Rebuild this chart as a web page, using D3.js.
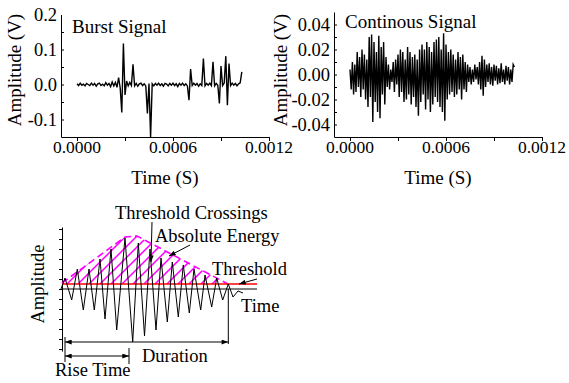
<!DOCTYPE html>
<html>
<head>
<meta charset="utf-8">
<script src="https://cdn.jsdelivr.net/npm/d3@7"></script>
<style>
  body { margin: 0; background: #fff; }
  svg { display: block; }
  text { font-family: "Liberation Serif", "Times New Roman", serif; fill: #000; }
</style>
</head>
<body>
<svg id="chart" width="569" height="383"></svg>
<script>
// ---- top panels: sampled signals ----
const burstStep = 0.00001;   // s between samples
const burstValues = [
  0.002, -0.003, 0.004, -0.002, 0.001, -0.004, 0.003, 0.000, -0.003, 0.004,
  -0.002, 0.003, -0.005, 0.002, 0.004, -0.003, 0.001, -0.004, 0.005, -0.002,
  0.003, -0.006, 0.007, -0.004, 0.006, -0.008, 0.020, -0.010, -0.080, 0.117,
  -0.030, 0.010, -0.004, 0.006, -0.003, 0.058, -0.004, 0.003, -0.005, 0.002,
  0.004, -0.003, 0.002, -0.004, -0.083, 0.003, -0.150, 0.002, -0.004, 0.003,
  -0.002, 0.004, -0.003, 0.002, -0.005, 0.003, 0.001, -0.004, 0.003, -0.002,
  0.004, -0.003, 0.002, -0.006, 0.003, -0.002, 0.004, -0.003, 0.002, -0.004,
  -0.045, 0.044, -0.003, 0.004, -0.002, 0.003, -0.005, 0.002, -0.003, 0.074,
  -0.004, 0.003, -0.002, 0.004, -0.003, 0.065, -0.004, 0.003, -0.002, -0.054,
  0.053, -0.003, 0.004, 0.081, -0.059, 0.060, -0.003, 0.004, -0.002, 0.003,
  -0.004, 0.002, 0.005, 0.036
];

const contStep = 0.0000075;
const contValues = [
  0.004, -0.012, 0.010, -0.016, 0.008, -0.014, 0.018, -0.010, 0.014, -0.018,
  0.020, -0.012, 0.016, -0.020, 0.012, -0.026, 0.030, -0.018, 0.032, -0.038,
  0.026, -0.022, 0.018, -0.030, 0.031, -0.035, 0.022, -0.016, 0.026, -0.024,
  0.014, -0.010, 0.008, -0.012, 0.004, -0.006, 0.010, -0.014, 0.012, -0.008,
  0.016, -0.018, 0.020, -0.014, 0.018, -0.022, 0.012, -0.020, 0.022, -0.016,
  0.018, -0.024, 0.014, -0.018, 0.016, -0.026, 0.012, -0.033, 0.020, -0.022,
  0.024, -0.016, 0.020, -0.028, 0.026, -0.020, 0.022, -0.030, 0.018, -0.024,
  0.026, -0.018, 0.028, -0.022, 0.030, -0.026, 0.020, -0.030, 0.033, -0.037,
  0.024, -0.020, 0.018, -0.016, 0.020, -0.014, 0.016, -0.018, 0.012, -0.016,
  0.018, -0.012, 0.014, -0.020, 0.016, -0.012, 0.010, -0.014, 0.008, -0.006,
  0.006, -0.008, 0.004, -0.006, 0.008, -0.004, 0.006, -0.008, 0.010, -0.012,
  0.015, -0.017, 0.012, -0.010, 0.008, -0.006, 0.009, -0.008, 0.006, -0.009,
  0.008, -0.005, 0.007, -0.008, 0.005, -0.007, 0.009, -0.006, 0.004, -0.008,
  0.007, -0.005, 0.006, -0.008, 0.004, -0.006, 0.008, 0.006
];

const timeDomain = [-0.0001, 0.0012];
const timeTicks = [0, 0.0003, 0.0006, 0.0009, 0.0012];
const timeLabelTicks = [0, 0.0006, 0.0012];
const timeTickLabels = ["0.0000", "0.0006", "0.0012"];

const burstDomain = [-0.15, 0.2];
const burstTicks = [-0.1, -0.05, 0, 0.05, 0.1, 0.15];
const burstLabelTicks = [-0.1, 0, 0.1, 0.2];
const burstTickLabels = ["-0.1", "0.0", "0.1", "0.2"];

const contDomain = [-0.05, 0.05];
const contTicks = [-0.04, -0.03, -0.02, -0.01, 0, 0.01, 0.02, 0.03, 0.04];
const contLabelTicks = [-0.04, -0.02, 0, 0.02, 0.04];
const contTickLabels = ["-0.04", "-0.02", "0.00", "0.02", "0.04"];

// ---- bottom schematic (arbitrary units) ----
const waveT = [0, 4, 10.7, 16.3, 22.3, 28, 33.3, 39, 44, 50, 55.7, 64, 71.7, 77.3, 83.5, 89, 95,
  100, 106.3, 111.3, 117.3, 122.3, 128.3, 133, 139.7, 144, 150.7, 155.7, 161.7, 167.3, 172, 177, 182];
const waveA = [0, 11, -11, 20, -21, 20, -21, 30, -30, 40, -41, 51, -53, 46, -47, 40, -41,
  31, -33, 27, -28, 24, -24, 20, -21, 14, -18, 11, -11, 5, -8, -2, -4];
const envT = [1, 64, 76, 167];
const envA = [6, 52, 53, 5];
const hatchT = [6, 17, 28, 39, 50, 61, 72, 83, 94, 106, 117, 128, 140, 151];
const threshold = 5;
const riseEnd = 68;
const durationEnd = 167.3;
const schemTicks = [-60, -50, -40, -30, -20, -10, 0, 10, 20, 30, 40, 50, 60];

const svg = d3.select("#chart");

const defs = svg.append("defs");
defs.append("marker")
  .attr("id", "arrow")
  .attr("viewBox", "0 0 8 6")
  .attr("refX", 8).attr("refY", 3)
  .attr("markerWidth", 7).attr("markerHeight", 5)
  .attr("markerUnits", "userSpaceOnUse")
  .attr("orient", "auto-start-reverse")
  .append("path").attr("d", "M0,0L8,3L0,6Z").attr("fill", "#000");

function signalPanel(o) {
  const x = d3.scaleLinear().domain(timeDomain).range(o.xRange);
  const y = d3.scaleLinear().domain(o.yDomain).range([137, o.yTop]);
  const g = svg.append("g");

  g.append("g")
    .attr("transform", "translate(0,137)")
    .call(d3.axisBottom(x).tickValues(timeTicks).tickSize(4).tickSizeOuter(0).tickFormat(""));
  g.append("g")
    .attr("transform", "translate(" + o.xRange[0] + ",0)")
    .call(d3.axisLeft(y).tickValues(o.ticks).tickSize(-3).tickSizeOuter(0).tickFormat(""));
  g.selectAll(".domain, .tick line").attr("stroke", "#000").attr("stroke-width", 1);

  g.selectAll(".xl").data(timeLabelTicks).enter().append("text")
    .attr("x", d => x(d)).attr("y", 153)
    .attr("text-anchor", "middle").style("font-size", "17.5px")
    .text((d, i) => timeTickLabels[i]);
  g.selectAll(".yl").data(o.labelTicks).enter().append("text")
    .attr("x", o.xRange[0] - 4).attr("y", d => y(d)).attr("dy", "0.35em")
    .attr("text-anchor", "end").style("font-size", "18.5px")
    .text((d, i) => o.tickLabels[i]);

  const line = d3.line()
    .x((d, i) => x(i * o.step))
    .y(d => y(d));
  g.append("path")
    .datum(o.values)
    .attr("d", line)
    .attr("fill", "none").attr("stroke", "#000")
    .attr("stroke-width", 1.4).attr("stroke-linejoin", "miter");

  g.append("text")
    .attr("x", o.titleX).attr("y", o.titleY)
    .style("font-size", "19px").text(o.title);
  g.append("text")
    .attr("x", (o.xRange[0] + o.xRange[1]) / 2).attr("y", 184)
    .attr("text-anchor", "middle").style("font-size", "19px")
    .text("Time (S)");
  g.append("text")
    .attr("transform", "translate(" + o.labelX + ",70) rotate(-90)")
    .attr("text-anchor", "middle").style("font-size", "19px")
    .text("Amplitude (V)");
}

signalPanel({
  xRange: [61, 269], yDomain: burstDomain, yTop: 14.5,
  ticks: burstTicks, labelTicks: burstLabelTicks, tickLabels: burstTickLabels,
  values: burstValues, step: burstStep,
  title: "Burst Signal", titleX: 72, titleY: 33, labelX: 21
});
signalPanel({
  xRange: [334, 542], yDomain: contDomain, yTop: 12,
  ticks: contTicks, labelTicks: contLabelTicks, tickLabels: contTickLabels,
  values: contValues, step: contStep,
  title: "Continous Signal", titleX: 345, titleY: 28, labelX: 287
});

// ---- schematic ----
const sx = d3.scaleLinear().domain([0, 196]).range([61, 257]);
const sy = d3.scaleLinear().domain([-62, 62]).range([351, 227]);
const sg = svg.append("g");

sg.append("g")
  .attr("transform", "translate(" + sx(1) + ",0)")
  .call(d3.axisLeft(sy).tickValues(schemTicks).tickSize(3).tickSizeOuter(0).tickFormat(""));
sg.selectAll(".domain, .tick line").attr("stroke", "#000").attr("stroke-width", 1);

// hatch between threshold and envelope
const clipPts = [[envT[0], threshold]].concat(envT.map((t, i) => [t, envA[i]]));
defs.append("clipPath").attr("id", "envClip")
  .append("path")
  .attr("d", d3.line().x(d => sx(d[0])).y(d => sy(d[1]))(clipPts) + "Z");
sg.append("g").attr("clip-path", "url(#envClip)")
  .selectAll("line").data(hatchT).enter().append("line")
  .attr("x1", d => sx(d)).attr("y1", sy(threshold))
  .attr("x2", d => sx(d + 70)).attr("y2", sy(threshold + 70))
  .attr("stroke", "#ff00ff").attr("stroke-width", 1.5);
sg.append("path")
  .datum(envT.map((t, i) => [t, envA[i]]))
  .attr("d", d3.line().x(d => sx(d[0])).y(d => sy(d[1])))
  .attr("fill", "none").attr("stroke", "#ff00ff")
  .attr("stroke-width", 1.6).attr("stroke-dasharray", "7,4");

// time axis and threshold
sg.append("line")
  .attr("x1", sx(1)).attr("x2", sx(196)).attr("y1", sy(0)).attr("y2", sy(0))
  .attr("stroke", "#000").attr("stroke-width", 1);
sg.append("line")
  .attr("x1", sx(1)).attr("x2", sx(196)).attr("y1", sy(threshold)).attr("y2", sy(threshold))
  .attr("stroke", "#ff0000").attr("stroke-width", 1.5);

// waveform
sg.append("path")
  .datum(waveT.map((t, i) => [t, waveA[i]]))
  .attr("d", d3.line().x(d => sx(d[0])).y(d => sy(d[1])))
  .attr("fill", "none").attr("stroke", "#000").attr("stroke-width", 1);

// duration / rise time
function seg(t1, a1, t2, a2, arrows) {
  const l = sg.append("line")
    .attr("x1", sx(t1)).attr("y1", sy(a1)).attr("x2", sx(t2)).attr("y2", sy(a2))
    .attr("stroke", "#000").attr("stroke-width", 1);
  if (arrows === "both") l.attr("marker-start", "url(#arrow)").attr("marker-end", "url(#arrow)");
  if (arrows === "end") l.attr("marker-end", "url(#arrow)");
}
seg(durationEnd, 0, durationEnd, -55);
seg(4, -48, 4, -73);
seg(riseEnd, -59, riseEnd, -75);
seg(4, -53, durationEnd, -53, "both");
seg(4, -67, riseEnd, -67, "both");

// annotation arrows
seg(91, 67, 90, 27, "end");
seg(129, 44, 108, 33, "end");
seg(196, 10, 178, 5, "end");

const notes = [
  { text: "Threshold Crossings", x: 115, y: 219 },
  { text: "Absolute Energy", x: 155, y: 242 },
  { text: "Threshold", x: 212, y: 275 },
  { text: "Time", x: 241, y: 312 },
  { text: "Duration", x: 142, y: 362 },
  { text: "Rise Time", x: 55, y: 376 }
];
sg.selectAll(".note").data(notes).enter().append("text")
  .attr("x", d => d.x).attr("y", d => d.y)
  .style("font-size", "18.5px").text(d => d.text);
sg.append("text")
  .attr("transform", "translate(44,284) rotate(-90)")
  .attr("text-anchor", "middle").style("font-size", "18.5px")
  .text("Amplitude");
</script>
</body>
</html>
